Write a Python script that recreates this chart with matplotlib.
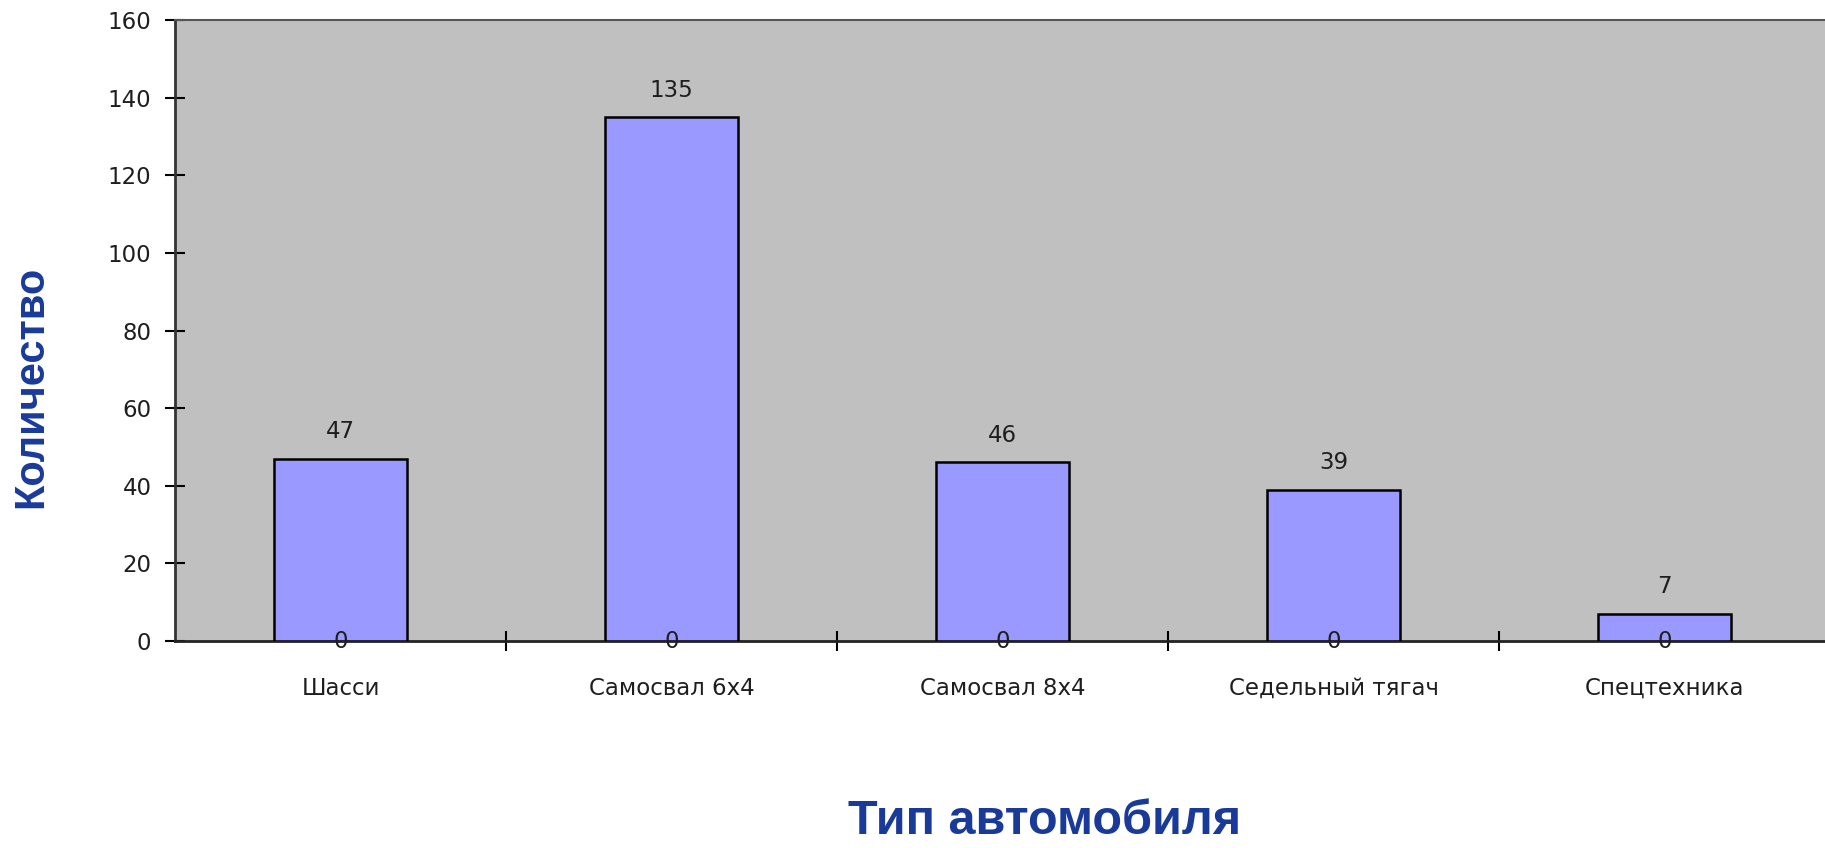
import matplotlib
matplotlib.use("Agg")
import matplotlib.pyplot as plt
import numpy as np

# chart data
categories = ["Шасси", "Самосвал 6x4", "Самосвал 8x4", "Седельный тягач", "Спецтехника"]
counts = [47, 135, 46, 39, 7]
base_labels = [0, 0, 0, 0, 0]
y_ticks = [0, 20, 40, 60, 80, 100, 120, 140, 160]

plt.rcParams['font.family'] = ['DejaVu Sans']
text_color = '#1e1e1e'
title_color = '#1a3a9a'

fig = plt.figure(figsize=(18.25, 8.48), dpi=100)
fig.patch.set_facecolor('white')
ax = fig.add_axes([175 / 1825, 207 / 848, 1655 / 1825, 621 / 848])
ax.set_facecolor('#c0c0c0')

x = np.arange(len(categories))
ax.bar(x, counts, width=0.4, color='#9999ff', edgecolor='black', linewidth=1.8, zorder=3)

for xi, v in zip(x, counts):
    ax.text(xi, v + 4, str(v), ha='center', va='bottom', fontsize=16.5, color=text_color)
for xi, v in zip(x, base_labels):
    ax.text(xi, v, str(v), ha='center', va='center', fontsize=16.5, color=text_color, zorder=4)

ax.set_xlim(-0.5, len(categories) - 0.5)
ax.set_ylim(0, 160)
ax.set_yticks(y_ticks)
ax.set_yticklabels([str(t) for t in y_ticks], fontsize=16.5, color=text_color)
ax.tick_params(axis='y', direction='inout', length=14, width=1.5, pad=10)

ax.set_xticks(x)
ax.set_xticklabels(categories, fontsize=16.5, color=text_color)
ax.set_xticks(np.arange(0.5, len(categories) - 0.5, 1), minor=True)
ax.tick_params(axis='x', which='major', length=0, pad=26)
ax.tick_params(axis='x', which='minor', direction='inout', length=14, width=1.5)

for side in ['top', 'right']:
    ax.spines[side].set_color('#555555')
    ax.spines[side].set_linewidth(1.5)
ax.spines['left'].set_color('#333333')
ax.spines['left'].set_linewidth(2)
ax.spines['bottom'].set_color('#222222')
ax.spines['bottom'].set_linewidth(2)

fig.text(31 / 1825, 1 - 387 / 848, "Количество", rotation=90, ha='center', va='center',
         fontsize=30, fontweight='bold', color=title_color, family='Liberation Sans')
fig.text(1045 / 1825, 1 - 822 / 848, "Тип автомобиля", ha='center', va='center',
         fontsize=35, fontweight='bold', color=title_color, family='Liberation Sans')

fig.savefig("out.png", dpi=100)
